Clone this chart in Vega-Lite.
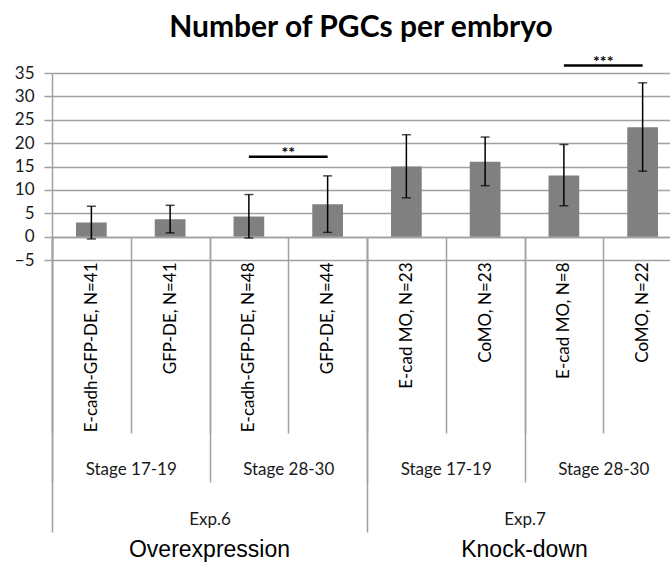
{
  "$schema": "https://vega.github.io/schema/vega-lite/v6.json",
  "width": 618,
  "height": 187,
  "autosize": {"type": "none"},
  "padding": {"left": 52, "top": 73, "right": 0, "bottom": 308},
  "background": "white",
  "config": {"view": {"stroke": null}, "axis": {"labelOverlap": false}, "axisY": {"labelOverlap": false, "labelSeparation": 0}},
  "title": {"text": "Number of PGCs per embryo", "font": "Lato", "fontWeight": "bold", "fontSize": 30, "color": "#000000", "anchor": "middle", "offset": 11},
  "datasets": {
    "bars": [
      {"leaf": "E-cadh-GFP-DE, N=41", "stage": "Exp.6 Stage 17-19", "exp": "Exp.6", "group": "Overexpression", "mean": 3.0, "lo": -0.5, "hi": 6.5},
      {"leaf": "GFP-DE, N=41", "stage": "Exp.6 Stage 17-19", "exp": "Exp.6", "group": "Overexpression", "mean": 3.7, "lo": 0.8, "hi": 6.7},
      {"leaf": "E-cadh-GFP-DE, N=48", "stage": "Exp.6 Stage 28-30", "exp": "Exp.6", "group": "Overexpression", "mean": 4.3, "lo": -0.3, "hi": 9.0},
      {"leaf": "GFP-DE, N=44", "stage": "Exp.6 Stage 28-30", "exp": "Exp.6", "group": "Overexpression", "mean": 6.9, "lo": 0.9, "hi": 13.0},
      {"leaf": "E-cad MO, N=23", "stage": "Exp.7 Stage 17-19", "exp": "Exp.7", "group": "Knock-down", "mean": 15.0, "lo": 8.3, "hi": 21.8},
      {"leaf": "CoMO, N=23", "stage": "Exp.7 Stage 17-19", "exp": "Exp.7", "group": "Knock-down", "mean": 16.0, "lo": 10.9, "hi": 21.3},
      {"leaf": "E-cad MO, N=8", "stage": "Exp.7 Stage 28-30", "exp": "Exp.7", "group": "Knock-down", "mean": 13.1, "lo": 6.6, "hi": 19.7},
      {"leaf": "CoMO, N=22", "stage": "Exp.7 Stage 28-30", "exp": "Exp.7", "group": "Knock-down", "mean": 23.4, "lo": 14.0, "hi": 32.9}
    ],
    "sig": [
      {"from": "E-cadh-GFP-DE, N=48", "to": "GFP-DE, N=44", "y": 17.1, "label": "**"},
      {"from": "E-cad MO, N=8", "to": "CoMO, N=22", "y": 36.6, "label": "***"}
    ]
  },
  "layer": [
    {
      "layer": [
        {
          "data": {"name": "bars"},
          "mark": {"type": "bar", "width": {"band": 0.39}, "color": "#808080"},
          "encoding": {
            "x": {
              "field": "leaf", "type": "nominal", "sort": null,
              "scale": {"domain": ["E-cadh-GFP-DE, N=41", "GFP-DE, N=41", "E-cadh-GFP-DE, N=48", "GFP-DE, N=44", "E-cad MO, N=23", "CoMO, N=23", "E-cad MO, N=8", "CoMO, N=22"], "range": [0, 630], "paddingInner": 0, "paddingOuter": 0},
              "axis": {
                "orient": "bottom", "title": null, "offset": -23,
                "domain": true, "domainColor": "#a0a0a0", "domainWidth": 1.5,
                "ticks": true, "tickBand": "extent", "tickSize": 196, "tickColor": "#a0a0a0", "tickWidth": 1.5,
                "labelAngle": -90, "labelPadding": -171, "labelFont": "Lato", "labelFontSize": 17, "labelColor": "#000000",
                "labelOverlap": false, "labelLimit": 0, "grid": false
              }
            },
            "y": {
              "field": "mean", "type": "quantitative",
              "scale": {"domain": [-5, 35], "nice": false, "zero": false},
              "axis": {
                "title": null, "values": [-5, 0, 5, 10, 15, 20, 25, 30, 35], "tickCount": 9,
                "grid": true, "gridColor": "#a0a0a0", "gridWidth": 1.5,
                "domain": true, "domainColor": "#a0a0a0", "domainWidth": 1.5,
                "ticks": true, "tickSize": 8, "tickColor": "#a0a0a0", "tickWidth": 1.5,
                "labelPadding": 10, "labelFont": "Lato", "labelFontSize": 17, "labelColor": "#1a1a1a",
                "labelOverlap": false, "labelBound": false, "labelFlush": false
              }
            },
            "y2": {"datum": 0}
          }
        },
        {
          "data": {"name": "bars"},
          "mark": {"type": "rule", "color": "#000000", "strokeWidth": 1.5},
          "encoding": {
            "x": {"field": "leaf", "type": "nominal", "sort": null},
            "y": {"field": "lo", "type": "quantitative"},
            "y2": {"field": "hi"}
          }
        },
        {
          "data": {"name": "bars"},
          "mark": {"type": "tick", "color": "#000000", "size": 9, "thickness": 1.5},
          "encoding": {
            "x": {"field": "leaf", "type": "nominal", "sort": null},
            "y": {"field": "lo", "type": "quantitative"}
          }
        },
        {
          "data": {"name": "bars"},
          "mark": {"type": "tick", "color": "#000000", "size": 9, "thickness": 1.5},
          "encoding": {
            "x": {"field": "leaf", "type": "nominal", "sort": null},
            "y": {"field": "hi", "type": "quantitative"}
          }
        },
        {
          "data": {"name": "sig"},
          "mark": {"type": "rule", "color": "#000000", "strokeWidth": 2.5, "clip": false},
          "encoding": {
            "x": {"field": "from", "type": "nominal"},
            "x2": {"field": "to"},
            "y": {"field": "y", "type": "quantitative"}
          }
        },
        {
          "data": {"name": "sig"},
          "mark": {"type": "text", "font": "Lato", "fontSize": 16, "fontWeight": "bold", "color": "#000000", "baseline": "alphabetic", "dy": 1, "clip": false},
          "encoding": {
            "x": {"field": "from", "type": "nominal", "bandPosition": 1},
            "y": {"field": "y", "type": "quantitative"},
            "text": {"field": "label"}
          }
        }
      ]
    },
    {
      "data": {"name": "bars"},
      "mark": {"type": "tick", "opacity": 0},
      "encoding": {
        "x": {
          "field": "stage", "type": "nominal", "sort": null,
          "scale": {"range": [0, 630], "paddingInner": 0, "paddingOuter": 0},
          "axis": {
            "orient": "bottom", "title": null, "offset": -23,
            "domain": false,
            "ticks": true, "tickBand": "extent", "tickSize": 245, "tickColor": "#a0a0a0", "tickWidth": 1.5,
            "labelAngle": 0, "labelBaseline": "top", "labelPadding": -21, "labelFont": "Lato", "labelFontSize": 17, "labelColor": "#1a1a1a",
            "labelExpr": "slice(datum.label, 6)", "labelOverlap": false, "grid": false
          }
        }
      }
    },
    {
      "data": {"name": "bars"},
      "mark": {"type": "tick", "opacity": 0},
      "encoding": {
        "x": {
          "field": "exp", "type": "nominal", "sort": null,
          "scale": {"range": [0, 630], "paddingInner": 0, "paddingOuter": 0},
          "axis": {
            "orient": "bottom", "title": null, "offset": -23,
            "domain": false,
            "ticks": true, "tickBand": "extent", "tickSize": 295, "tickColor": "#a0a0a0", "tickWidth": 1.5,
            "labelAngle": 0, "labelBaseline": "top", "labelPadding": -21, "labelFont": "Lato", "labelFontSize": 17, "labelColor": "#1a1a1a",
            "labelOverlap": false, "grid": false
          }
        }
      }
    },
    {
      "data": {"name": "bars"},
      "mark": {"type": "tick", "opacity": 0},
      "encoding": {
        "x": {
          "field": "group", "type": "nominal", "sort": null,
          "scale": {"range": [0, 630], "paddingInner": 0, "paddingOuter": 0},
          "axis": {
            "orient": "bottom", "title": null, "offset": -23,
            "domain": false, "ticks": false, "tickSize": 0,
            "labelAngle": 0, "labelBaseline": "top", "labelPadding": 301, "labelFont": "Liberation Sans", "labelFontSize": 23, "labelColor": "#000000",
            "labelOverlap": false, "grid": false
          }
        }
      }
    }
  ],
  "resolve": {"scale": {"x": "independent"}, "axis": {"x": "independent"}}
}
